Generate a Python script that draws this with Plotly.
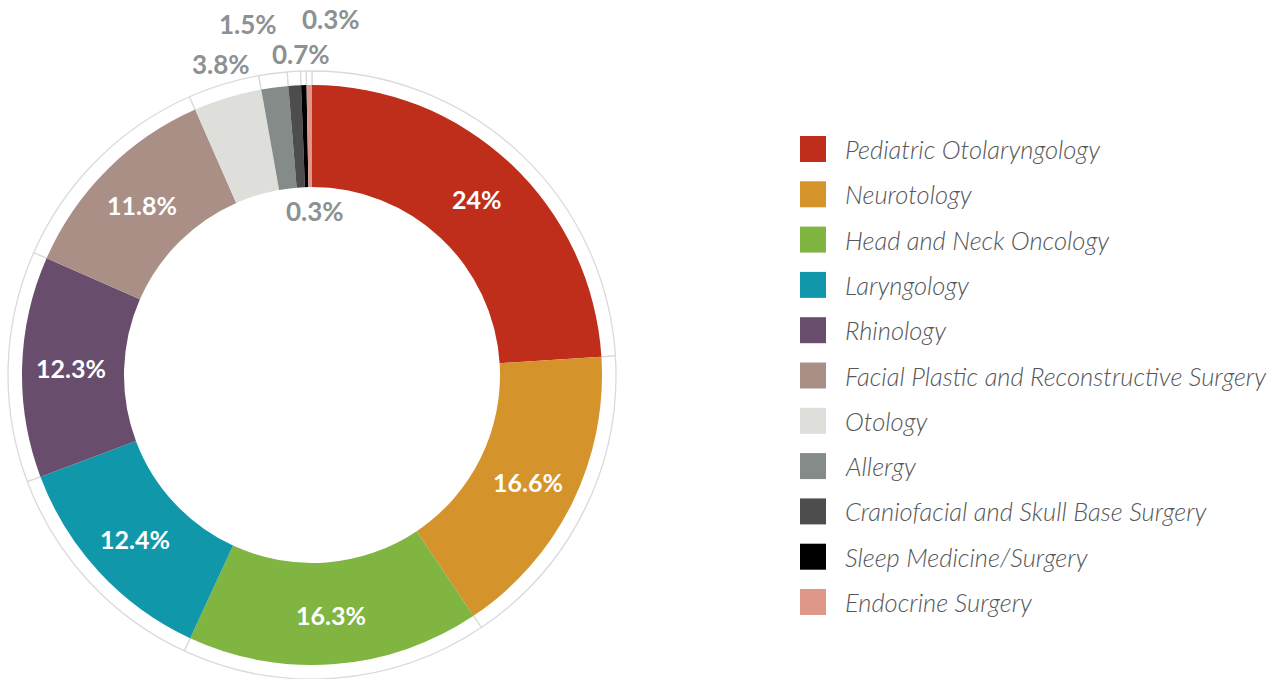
import math
import plotly.graph_objects as go

# --- data -----------------------------------------------------------------
specialties = [
    "Pediatric Otolaryngology",
    "Neurotology",
    "Head and Neck Oncology",
    "Laryngology",
    "Rhinology",
    "Facial Plastic and Reconstructive Surgery",
    "Otology",
    "Allergy",
    "Craniofacial and Skull Base Surgery",
    "Sleep Medicine/Surgery",
    "Endocrine Surgery",
]
shares = [24, 16.6, 16.3, 12.4, 12.3, 11.8, 3.8, 1.5, 0.7, 0.3, 0.3]
colors = [
    "#BE2E1B", "#D4942B", "#80B541", "#1098AA", "#684E6C", "#A98F85",
    "#DEDFDA", "#858B89", "#4D4D4D", "#000000", "#DF978A",
]

W, H = 1279, 679
CX, CY = 312, 375          # donut centre in px
R_OUT, R_IN = 290, 188     # donut radii in px
R_RING = 304               # thin outer ring


def px(x):
    return x / W


def py(y):
    return 1 - y / H


def domain(r):
    return dict(x=[px(CX - r), px(CX + r)], y=[py(CY + r), py(CY - r)])


fig = go.Figure()

# thin outer ring with separators (drawn first, sits behind the donut)
fig.add_trace(go.Pie(
    labels=specialties, values=shares, sort=False, direction="clockwise",
    rotation=0, hole=282 / R_RING, domain=domain(R_RING),
    marker=dict(colors=["white"] * len(shares), line=dict(color="#DADADA", width=1.3)),
    textinfo="none", hoverinfo="skip", showlegend=False,
))

# the donut itself
fig.add_trace(go.Pie(
    labels=specialties, values=shares, sort=False, direction="clockwise",
    rotation=0, hole=R_IN / R_OUT, domain=domain(R_OUT),
    marker=dict(colors=colors, line=dict(width=0)),
    textinfo="none", showlegend=False,
    hovertemplate="%{label}: %{value}%<extra></extra>",
))

annotations = []
shapes = []

# value labels inside the big slices
total = sum(shares)
cum = 0
r_mid = (R_OUT + R_IN) / 2 + 2
for i, v in enumerate(shares):
    mid = (cum + v / 2) / total * 2 * math.pi
    cum += v
    if v < 5:
        continue
    x = CX + r_mid * math.sin(mid)
    y = CY - r_mid * math.cos(mid)
    annotations.append(dict(
        x=px(x), y=py(y), xref="paper", yref="paper", text=f"{v:g}%",
        showarrow=False, xanchor="center", yanchor="middle",
        font=dict(family="Lato", size=25, color="white", weight="bold"),
    ))

# small slices: labels placed by hand around the top
small_pos = {6: (221, 64), 7: (248, 24), 8: (301, 54), 9: (331, 19), 10: (315, 211)}
for i, (x, y) in small_pos.items():
    annotations.append(dict(
        x=px(x), y=py(y), xref="paper", yref="paper", text=f"{shares[i]:g}%",
        showarrow=False, xanchor="center", yanchor="middle",
        font=dict(family="Lato", size=26, color="#8C9191", weight="bold"),
    ))

# legend with large colour squares
LEG_X, LEG_Y0, LEG_DY, SQ = 800, 149, 45.3, 26
for i, (name, c) in enumerate(zip(specialties, colors)):
    yc = LEG_Y0 + i * LEG_DY
    shapes.append(dict(
        type="rect", xref="paper", yref="paper",
        x0=px(LEG_X), x1=px(LEG_X + SQ), y0=py(yc + SQ / 2), y1=py(yc - SQ / 2),
        fillcolor=c, line=dict(width=0),
    ))
    annotations.append(dict(
        x=px(843), y=py(yc), xref="paper", yref="paper", text=name,
        showarrow=False, xanchor="left", yanchor="middle",
        font=dict(family="Lato", size=25.5, color="#55575A", style="italic", weight=300),
    ))

fig.update_layout(
    width=W, height=H,
    margin=dict(l=0, r=0, t=0, b=0),
    paper_bgcolor="white", plot_bgcolor="white",
    annotations=annotations, shapes=shapes,
    showlegend=False,
)

# drop the default body margin so the figure fills the window exactly
fig.write_html(
    "out.html",
    config={"displayModeBar": False},
    post_script="document.body.style.margin='0';",
)
